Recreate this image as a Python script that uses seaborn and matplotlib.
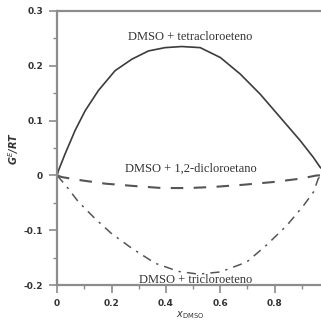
import numpy as np
import pandas as pd
import matplotlib
matplotlib.use("Agg")
import matplotlib.pyplot as plt
import seaborn as sns
from matplotlib.ticker import MultipleLocator

# valores (GE/RT vs x_DMSO)
x_tetra = [0, 0.005, 0.029, 0.066, 0.103, 0.152, 0.213, 0.275, 0.336, 0.397, 0.458,
           0.526, 0.60, 0.673, 0.747, 0.82, 0.893, 0.942, 0.967, 1.0]
g_tetra = [0, 0.009, 0.039, 0.082, 0.118, 0.155, 0.191, 0.212, 0.227, 0.233, 0.235,
           0.233, 0.215, 0.185, 0.148, 0.106, 0.064, 0.033, 0.015, 0]

x_dcl = [0, 0.017, 0.09, 0.177, 0.275, 0.385, 0.483, 0.575, 0.685, 0.795, 0.893, 0.955, 1.0]
g_dcl = [0, -0.003, -0.009, -0.015, -0.019, -0.023, -0.023, -0.021, -0.017, -0.012, -0.006, 0.0, 0.0]

x_tri = [0, 0.036, 0.078, 0.14, 0.20, 0.275, 0.36, 0.446, 0.52, 0.60, 0.697, 0.77,
         0.845, 0.906, 0.943, 0.96, 0.97]
g_tri = [0, -0.021, -0.048, -0.079, -0.106, -0.133, -0.16, -0.175, -0.180, -0.176, -0.158, -0.127,
         -0.091, -0.055, -0.030, -0.006, 0.0]

labels = ["DMSO + tetracloroeteno", "DMSO + 1,2-dicloroetano", "DMSO + tricloroeteno"]

sns.set_style("ticks")
fig = plt.figure(figsize=(3.21, 3.20), dpi=100)
ax = fig.add_axes([0.178, 0.109, 0.826, 0.857])

line_c = "#3c3c3c"
sns.lineplot(x=x_tetra, y=g_tetra, ax=ax, color=line_c, lw=1.2)
sns.lineplot(x=x_dcl, y=g_dcl, ax=ax, color="#555555", lw=1.5,
             linestyle=(0, (6, 5)))
sns.lineplot(x=x_tri, y=g_tri, ax=ax, color="#555555", lw=1.1,
             linestyle=(0, (6, 4, 1.5, 4)))

ax.set_xlim(0, 0.975)
ax.set_ylim(-0.2, 0.3)
ax.xaxis.set_minor_locator(MultipleLocator(0.1))
ax.yaxis.set_minor_locator(MultipleLocator(0.05))
ax.set_xticks([0, 0.2, 0.4, 0.6, 0.8])
ax.set_xticklabels(["0", "0.2", "0.4", "0.6", "0.8"])
ax.set_yticks([-0.2, -0.1, 0, 0.1, 0.2, 0.3])
ax.set_yticklabels(["-0.2", "-0.1", "0", "0.1", "0.2", "0.3"])

axis_c = "#8c8c8c"
for s in ["left", "bottom", "top"]:
    ax.spines[s].set_color(axis_c)
    ax.spines[s].set_linewidth(1.6)
ax.spines["right"].set_visible(False)
ax.tick_params(which="major", length=6, width=1.2, color=axis_c,
               labelsize=6.5, labelcolor="#333333", pad=4)
ax.tick_params(which="minor", length=3, width=1.0, color=axis_c)
for t in ax.get_xticklabels() + ax.get_yticklabels():
    t.set_fontweight("bold")

ax.set_ylabel("G$^E$/RT", fontsize=7, color="#333333", style="italic",
              weight="bold", labelpad=2)
ax.set_xlabel("$\\mathit{x}_{\\mathrm{DMSO}}$", fontsize=7, color="#333333", labelpad=1)

serif = ["Liberation Serif", "DejaVu Serif"]
ax.text(0.49, 0.252, labels[0], ha="center", va="center", fontsize=9, family=serif, color="#333333")
ax.text(0.49, 0.013, labels[1], ha="center", va="center", fontsize=9, family=serif, color="#333333")
ax.text(0.51, -0.190, labels[2], ha="center", va="center", fontsize=9, family=serif, color="#333333")

fig.savefig("out.png", dpi=100)
